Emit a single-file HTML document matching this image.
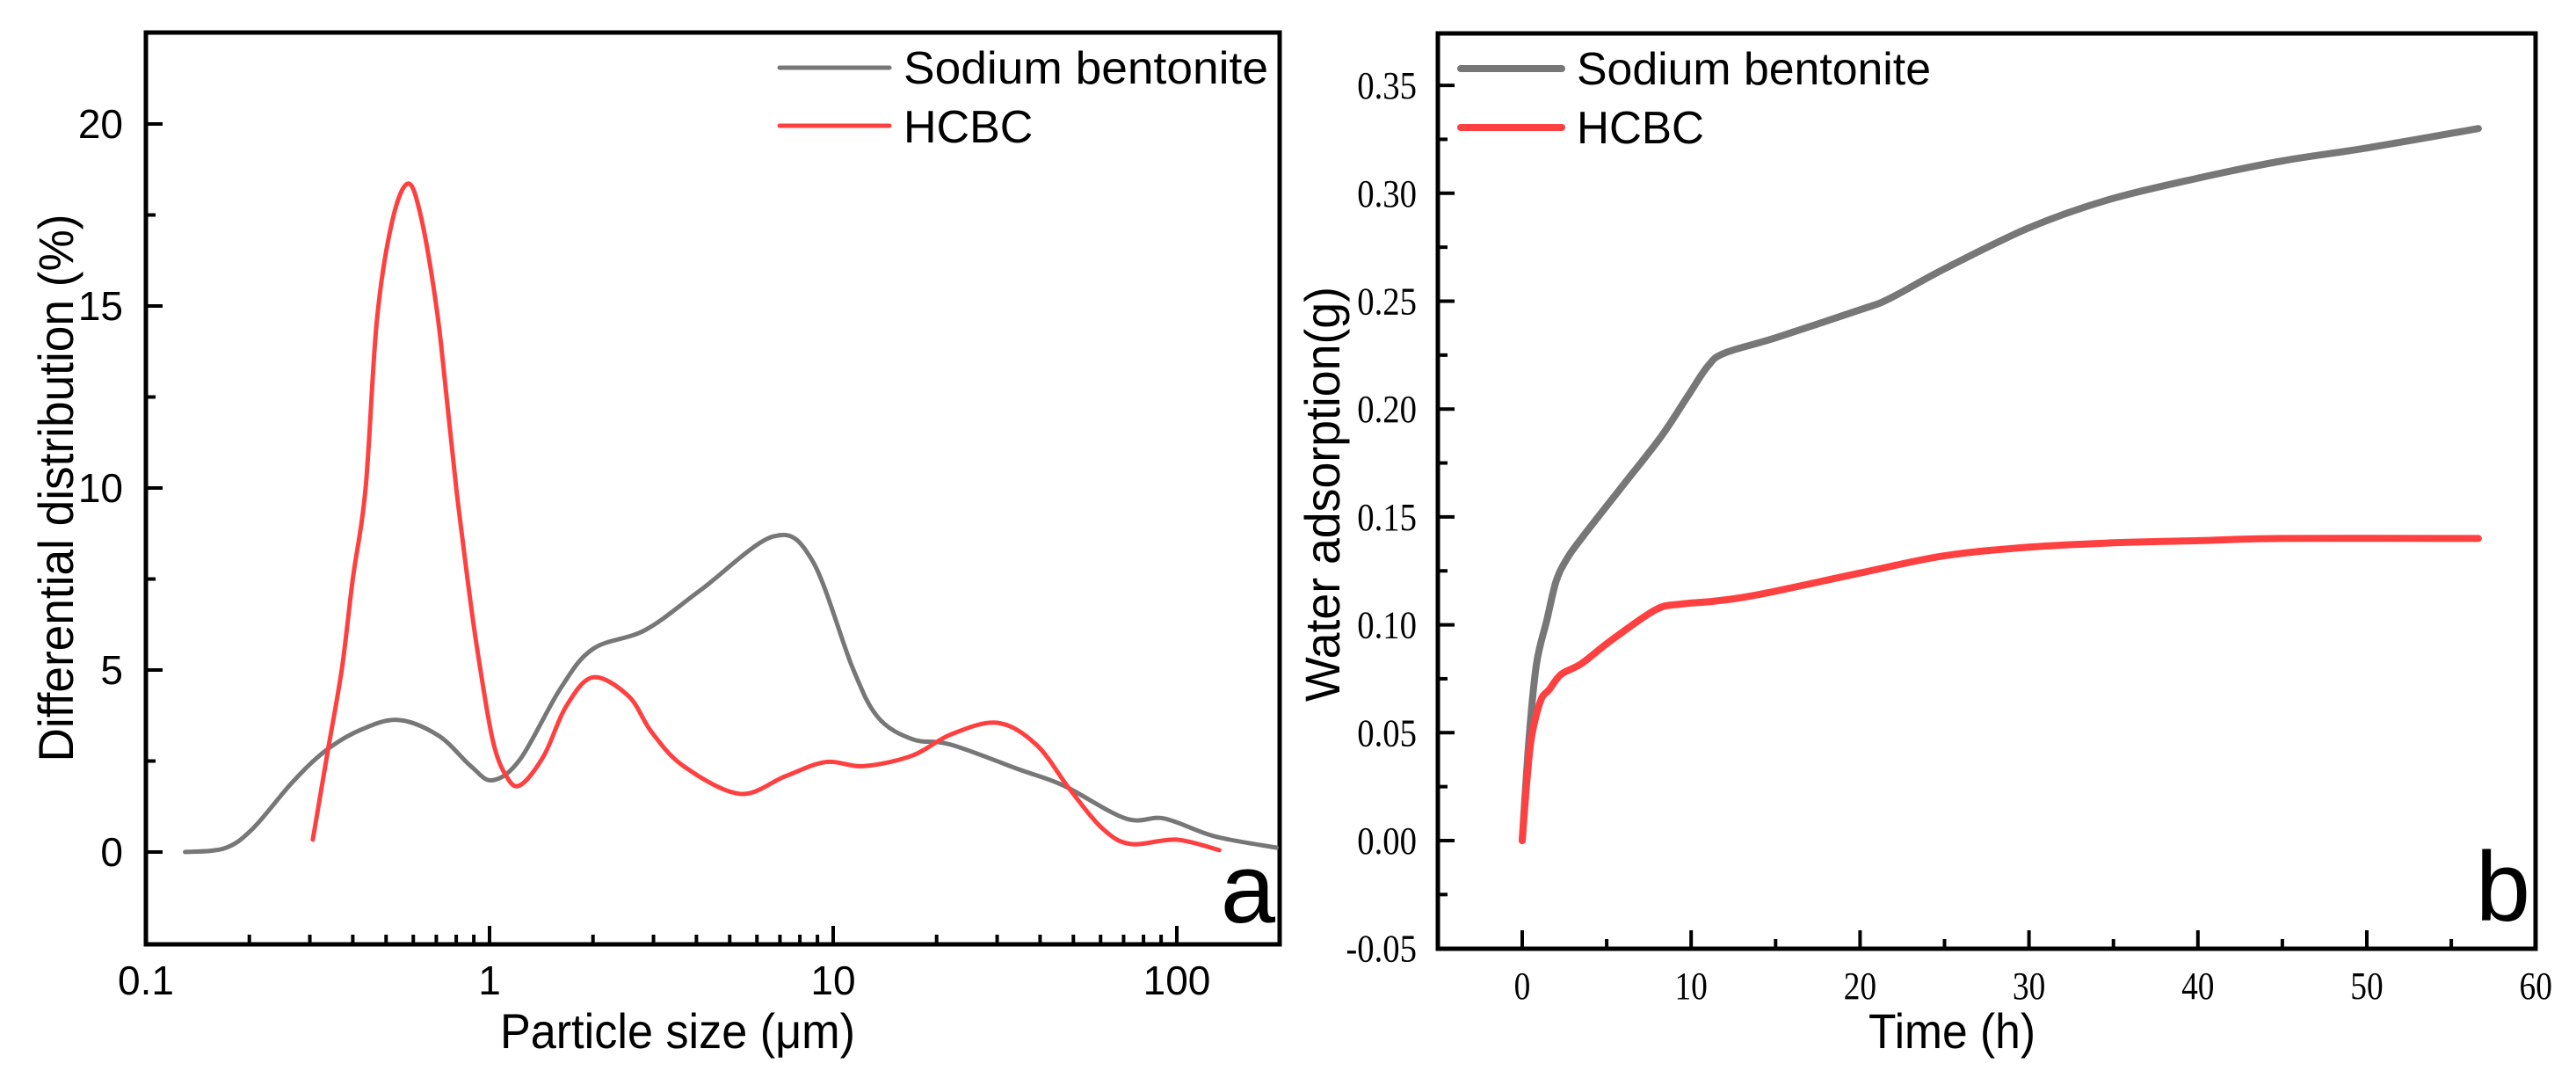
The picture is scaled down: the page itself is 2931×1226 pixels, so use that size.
<!DOCTYPE html>
<html><head><meta charset="utf-8"><style>
html,body{margin:0;padding:0;background:#fff;}
svg{display:block;}
.sans{font-family:"Liberation Sans",Arial,sans-serif;}
.serif{font-family:"Liberation Serif","Times New Roman",serif;}
</style></head><body>
<svg id="chart" width="2931" height="1226" viewBox="0 0 2931 1226" xmlns="http://www.w3.org/2000/svg">
<g id="pa"></g>
<g id="pb"></g>
</svg>
<script>
// Panel a data (particle size, um ; differential distribution, %)
const aGrayX = [0.13,0.169,0.204,0.266,0.33,0.416,0.54,0.71,0.88,1.02,1.23,1.61,2.0,2.84,4.12,6.7,8.7,11.4,13.5,17,22,34.7,46.7,71,92,129,195];
const aGrayY = [0,0.1,0.63,1.9,2.75,3.33,3.63,3.2,2.37,1.97,2.56,4.5,5.58,6.1,7.2,8.67,8.0,5.05,3.7,3.1,2.95,2.27,1.83,0.92,0.92,0.43,0.12];
const aRedX = [0.306,0.338,0.372,0.40,0.436,0.47,0.52,0.578,0.63,0.7,0.75,0.8,0.86,0.92,1.02,1.12,1.23,1.44,1.67,2.0,2.54,2.96,3.67,5.35,7.25,9.5,12.3,17,22,30,39,49,61,73.5,99.6,133];
const aRedY = [0.34,2.75,5.05,7.5,10,14.6,17.3,18.36,17.5,15,12.5,10,7.6,5.6,3.1,2.08,1.84,2.65,4.0,4.8,4.28,3.3,2.36,1.6,2.08,2.47,2.36,2.65,3.23,3.55,2.95,1.7,0.63,0.22,0.34,0.05];
const aXTicks = [0.1,1,10,100];
const aXTickLabels = ["0.1","1","10","100"];
const aYTicks = [0,5,10,15,20];
const aYTickLabels = ["0","5","10","15","20"];
// Panel b data (time, h ; water adsorption, g)
const bGrayX = [0,0.42,0.85,1.45,2.0,2.6,3.5,5.8,8.2,9.8,11,12,15,20,21.7,25,30,34.7,40,45,50,56.6];
const bGrayY = [0,0.049,0.082,0.102,0.12,0.13,0.14,0.163,0.187,0.206,0.22,0.226,0.233,0.246,0.251,0.265,0.284,0.297,0.307,0.315,0.321,0.330];
const bRedX = [0,0.3,0.57,1.1,1.6,2.3,3.5,5.3,7.9,9.4,11.4,14,20,25,30,35,40,45,56.6];
const bRedY = [0,0.03,0.049,0.065,0.070,0.077,0.082,0.093,0.107,0.1096,0.111,0.114,0.124,0.132,0.136,0.138,0.139,0.14,0.14];
const bXTicks = [0,10,20,30,40,50,60];
const bXTickLabels = ["0","10","20","30","40","50","60"];
const bYTicks = [-0.05,0,0.05,0.1,0.15,0.2,0.25,0.3,0.35];
const bYTickLabels = ["-0.05","0.00","0.05","0.10","0.15","0.20","0.25","0.30","0.35"];

const NS="http://www.w3.org/2000/svg";
function mk(parent,tag,attrs,text){const e=document.createElementNS(NS,tag);for(const k in attrs)e.setAttribute(k,attrs[k]);if(text!==undefined)e.textContent=text;parent.appendChild(e);return e;}
function smooth(pts){let d="M"+pts[0][0].toFixed(1)+","+pts[0][1].toFixed(1);for(let i=0;i<pts.length-1;i++){const p0=pts[i-1]||pts[i],p1=pts[i],p2=pts[i+1],p3=pts[i+2]||p2;const t=6;const c1=[p1[0]+(p2[0]-p0[0])/t,p1[1]+(p2[1]-p0[1])/t];const c2=[p2[0]-(p3[0]-p1[0])/t,p2[1]-(p3[1]-p1[1])/t];d+="C"+c1.map(v=>v.toFixed(1))+" "+c2.map(v=>v.toFixed(1))+" "+p2.map(v=>v.toFixed(1));}return d;}

// ---------- Panel a ----------
const A={L:166,R:1456,T:37,B:1074};
const ax=v=>A.L+(Math.log10(v)+1)*391;
const ay=v=>969-v*41.4;
const pa=document.getElementById('pa');
let e;
e=mk(pa,'rect',{x:A.L,y:A.T,width:A.R-A.L,height:A.B-A.T,fill:'none',stroke:'#000','stroke-width':5});


aXTicks.forEach((t,i)=>{
  e=mk(pa,'line',{x1:ax(t),x2:ax(t),y1:A.B,y2:A.B-21,stroke:'#000','stroke-width':4});
  
  
  e=mk(pa,'text',{x:ax(t),y:1131,'text-anchor':'middle','font-size':46,class:'sans'},aXTickLabels[i]);
  
  
  for(let m=2;m<=9;m++){const v=t*m;if(ax(v)<A.R-2){
    e=mk(pa,'line',{x1:ax(v),x2:ax(v),y1:A.B,y2:A.B-11,stroke:'#000','stroke-width':4});
    
    }}
});
aYTicks.forEach((t,i)=>{
  e=mk(pa,'line',{x1:A.L,x2:A.L+19,y1:ay(t),y2:ay(t),stroke:'#000','stroke-width':4});
  
  
  e=mk(pa,'text',{x:140,y:ay(t)+16,'text-anchor':'end','font-size':46,class:'sans'},aYTickLabels[i]);
  
  
});
[-2.5,2.5,7.5,12.5,17.5,22.5].forEach(t=>{if(ay(t)>A.T+3&&ay(t)<A.B-3){
  e=mk(pa,'line',{x1:A.L,x2:A.L+11,y1:ay(t),y2:ay(t),stroke:'#000','stroke-width':4});
  
  }});
e=mk(pa,'path',{d:smooth(aGrayX.map((x,i)=>[ax(x),ay(aGrayY[i])])),fill:'none',stroke:'#777','stroke-width':5,'stroke-linecap':'round','stroke-linejoin':'round'});


e=mk(pa,'path',{d:smooth(aRedX.map((x,i)=>[ax(x),ay(aRedY[i])])),fill:'none',stroke:'#ff4040','stroke-width':5,'stroke-linecap':'round','stroke-linejoin':'round'});


e=mk(pa,'text',{x:771,y:1192,'text-anchor':'middle','font-size':56,class:'sans',textLength:404,lengthAdjust:'spacingAndGlyphs'},'Particle size (μm)');


e=mk(pa,'text',{x:0,y:0,'text-anchor':'middle','font-size':56,class:'sans',transform:'translate(83,555) rotate(-90)',textLength:623,lengthAdjust:'spacingAndGlyphs'},'Differential distribution (%)');


e=mk(pa,'line',{x1:887,x2:1012,y1:77,y2:77,stroke:'#777','stroke-width':5,'stroke-linecap':'round'});


e=mk(pa,'text',{x:1028,y:95,'font-size':52,class:'sans',textLength:415,lengthAdjust:'spacingAndGlyphs'},'Sodium bentonite');


e=mk(pa,'line',{x1:887,x2:1012,y1:143,y2:143,stroke:'#ff4040','stroke-width':5,'stroke-linecap':'round'});


e=mk(pa,'text',{x:1028,y:162,'font-size':52,class:'sans'},'HCBC');


e=mk(pa,'text',{x:1451,y:1049,'text-anchor':'end','font-size':112,class:'sans'},'a');



// ---------- Panel b ----------
const B={L:1636,R:2885,T:38,B:1079};
const bx=v=>1732+v*19.22;
const by=v=>956-v*2454;
const pb=document.getElementById('pb');
e=mk(pb,'rect',{x:B.L,y:B.T,width:B.R-B.L,height:B.B-B.T,fill:'none',stroke:'#000','stroke-width':5});


bXTicks.forEach((t,i)=>{
  e=mk(pb,'line',{x1:bx(t),x2:bx(t),y1:B.B,y2:B.B-21,stroke:'#000','stroke-width':4});
  
  
  e=mk(pb,'text',{x:bx(t),y:1136,'text-anchor':'middle','font-size':44,class:'serif',transform:'translate('+bx(t)+',0) scale(0.85,1) translate('+(-bx(t))+',0)'},bXTickLabels[i]);
  
  
});
[-5,5,15,25,35,45,55].forEach(t=>{
  e=mk(pb,'line',{x1:bx(t),x2:bx(t),y1:B.B,y2:B.B-11,stroke:'#000','stroke-width':4});
  
  
});
bYTicks.forEach((t,i)=>{
  e=mk(pb,'line',{x1:B.L,x2:B.L+19,y1:by(t),y2:by(t),stroke:'#000','stroke-width':4});
  
  
  e=mk(pb,'text',{x:1612,y:by(t)+15,'text-anchor':'end','font-size':44,class:'serif',transform:'translate(1612,0) scale(0.88,1) translate(-1612,0)'},bYTickLabels[i]);
  
  
});
[-0.025,0.025,0.075,0.125,0.175,0.225,0.275,0.325].forEach(t=>{
  e=mk(pb,'line',{x1:B.L,x2:B.L+11,y1:by(t),y2:by(t),stroke:'#000','stroke-width':4});
  
  
});
e=mk(pb,'path',{d:smooth(bGrayX.map((x,i)=>[bx(x),by(bGrayY[i])])),fill:'none',stroke:'#777','stroke-width':8,'stroke-linecap':'round','stroke-linejoin':'round'});


e=mk(pb,'path',{d:smooth(bRedX.map((x,i)=>[bx(x),by(bRedY[i])])),fill:'none',stroke:'#ff4040','stroke-width':8,'stroke-linecap':'round','stroke-linejoin':'round'});


e=mk(pb,'text',{x:2221,y:1192,'text-anchor':'middle','font-size':56,class:'sans',textLength:190,lengthAdjust:'spacingAndGlyphs'},'Time (h)');


e=mk(pb,'text',{x:0,y:0,'text-anchor':'middle','font-size':56,class:'sans',transform:'translate(1524,562) rotate(-90)',textLength:472,lengthAdjust:'spacingAndGlyphs'},'Water adsorption(g)');


e=mk(pb,'line',{x1:1662,x2:1777,y1:78,y2:78,stroke:'#777','stroke-width':8,'stroke-linecap':'round'});


e=mk(pb,'text',{x:1794,y:96,'font-size':52,class:'sans',textLength:403,lengthAdjust:'spacingAndGlyphs'},'Sodium bentonite');


e=mk(pb,'line',{x1:1662,x2:1777,y1:145,y2:145,stroke:'#ff4040','stroke-width':8,'stroke-linecap':'round'});


e=mk(pb,'text',{x:1794,y:163,'font-size':52,class:'sans',textLength:145,lengthAdjust:'spacingAndGlyphs'},'HCBC');


e=mk(pb,'text',{x:2879,y:1047,'text-anchor':'end','font-size':112,class:'sans'},'b');


</script>
</body></html>
